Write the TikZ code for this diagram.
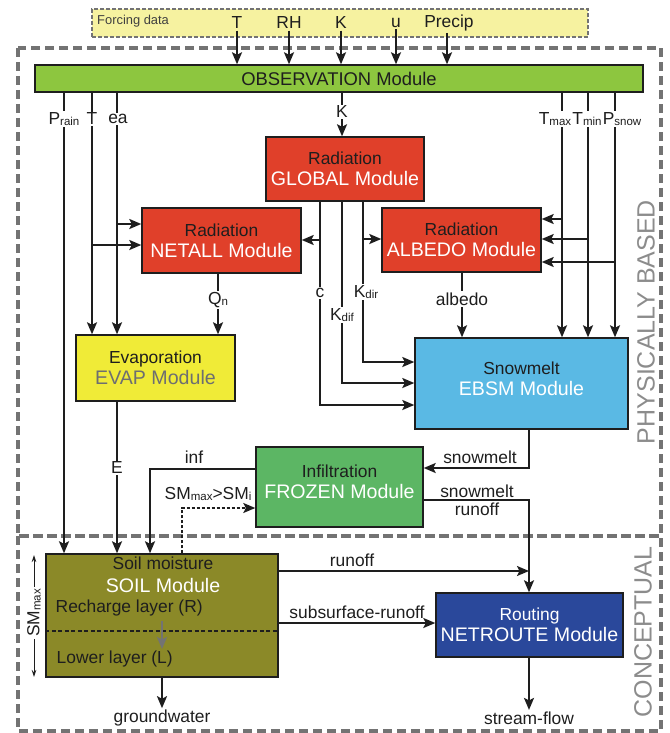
\documentclass[tikz,border=0pt]{standalone}
\usepackage{fontspec}
\setmainfont{Liberation Sans}
\usetikzlibrary{arrows.meta,calc}
\definecolor{ink}{HTML}{1E1E1E}
\definecolor{radred}{HTML}{E0402A}
\definecolor{obsgreen}{HTML}{8DC63F}
\definecolor{evapyel}{HTML}{F0EB37}
\definecolor{ebsmblue}{HTML}{5AB9E4}
\definecolor{frozgreen}{HTML}{5CB664}
\definecolor{soilolive}{HTML}{8B8928}
\definecolor{routeblue}{HTML}{2A489B}
\definecolor{forcefill}{HTML}{F6F2A0}
\definecolor{zonegray}{HTML}{737373}
\definecolor{sidegray}{HTML}{8C8C8C}
\definecolor{evapgray}{HTML}{6D6E71}
\newcommand{\sbs}[1]{\raisebox{-1.3pt}{\fontsize{11.5}{12}\selectfont #1}}
\newcommand{\modw}[1]{{\fontsize{19.6}{22}\selectfont\color{white}#1}}
\begin{document}
\begin{tikzpicture}[x=1pt,y=-1pt,
  lab/.style={font=\fontsize{17.4}{20}\selectfont, text=ink, inner sep=1.5pt},
  labw/.style={lab, fill=white},
  box/.style={draw=ink, line width=1.4pt, inner sep=0pt, align=center, text=ink,
              font=\fontsize{17.4}{21}\selectfont},
  boxtext/.style={inner sep=0pt, align=center, text=ink, font=\fontsize{17.4}{21}\selectfont},
  conn/.style={draw=ink, line width=1.9pt},
  arr/.style={conn, -{Stealth[length=12pt,width=10pt,inset=2.5pt]}},
  dotarr/.style={draw=ink, line width=1.4pt, dash pattern=on 3pt off 2pt,
                 -{Stealth[length=12pt,width=10pt,inset=2.5pt]}},
  zone/.style={draw=zonegray, line width=3.5pt, dash pattern=on 9pt off 5pt},
  sidelab/.style={rotate=90, text=sidegray, font=\fontsize{25}{27}\selectfont, inner sep=0pt},
]
\useasboundingbox (0,0) rectangle (669,733);

% zones
\draw[zone] (18,48) rectangle (661,536);
\draw[zone] (18,536) rectangle (661,731);
\node[sidelab] (pb) at (646,322) {PHYSICALLY BASED};
\node[sidelab] (cp) at (643,632) {CONCEPTUAL};

% forcing data
\node[draw=zonegray, fill=forcefill, line width=1.3pt, dash pattern=on 4pt off 2pt,
      minimum width=496pt, minimum height=28pt, inner sep=0pt] (forcing) at (340,23) {};
\node[anchor=west, text=black!75, font=\fontsize{12.9}{14}\selectfont, inner sep=0pt] (fdata) at (97,21) {Forcing data};
\node[lab] (fT) at (237,23) {T};
\node[lab] (fRH) at (289,23) {RH};
\node[lab] (fK) at (341,23) {K};
\node[lab] (fu) at (396,23) {u};
\node[lab] (fP) at (449,23) {Precip};

% boxes
\node[box, fill=obsgreen, minimum width=608pt, minimum height=27pt, font=\fontsize{18.4}{20}\selectfont] (obs) at (339,78.5) {OBSERVATION Module};
\node[box, fill=radred, minimum width=158pt, minimum height=64pt] (global) at (345,169) {Radiation\\\modw{GLOBAL Module}};
\node[box, fill=radred, minimum width=159pt, minimum height=65pt] (netall) at (221.5,240.5) {Radiation\\\modw{NETALL Module}};
\node[box, fill=radred, minimum width=159pt, minimum height=64pt] (albedo) at (461.5,240) {Radiation\\\modw{ALBEDO Module}};
\node[box, fill=evapyel, minimum width=159pt, minimum height=66pt] (evap) at (155.5,368) {Evaporation\\{\fontsize{19.6}{22}\selectfont\color{evapgray}EVAP Module}};
\node[box, fill=ebsmblue, minimum width=213pt, minimum height=91pt] (ebsm) at (521.5,383.5) {};
\node[boxtext] (tebsm) at (521.5,378.5) {Snowmelt\\\modw{EBSM Module}};
\node[box, fill=frozgreen, minimum width=167pt, minimum height=80pt] (frozen) at (339.5,487) {};
\node[boxtext] (tfrozen) at (339.5,482) {Infiltration\\\modw{FROZEN Module}};
\node[box, fill=soilolive, minimum width=232pt, minimum height=123pt] (soil) at (162,615.5) {};
\node[box, fill=routeblue, minimum width=187pt, minimum height=64pt] (netroute) at (529.5,625) {\color{white}Routing\\\modw{NETROUTE Module}};

% soil contents
\node[lab] (ts1) at (163,563) {Soil moisture};
\node[inner sep=0pt, font=\fontsize{19.6}{22}\selectfont, text=white] (ts2) at (163,585) {SOIL Module};
\node[lab, anchor=west] (ts3) at (54,608) {Recharge layer (R)};
\node[lab, anchor=west] (ts4) at (55,659) {Lower layer (L)};
\coordinate (sl) at (0,631);
\draw[ink, line width=1.1pt, dash pattern=on 4pt off 2.5pt] (soil.west |- sl) -- (soil.east |- sl);
\coordinate (ga) at (162,621);
\coordinate (gb) at (162,649);
\draw[draw=black!55, line width=2.6pt, -{Stealth[length=12pt,width=10pt,inset=2.5pt]}] (ga) -- (gb);

% SMmax double arrow
\coordinate (sma) at (34,555);
\coordinate (smb) at (34,677);
\draw[ink, line width=0.9pt, {Stealth[length=7pt,width=4.5pt]}-{Stealth[length=7pt,width=4.5pt]}] (sma) -- (smb);
\node[labw, rotate=90, inner sep=2pt] (lsm) at (34,613) {SM\sbs{max}};

% forcing arrows
\coordinate (xP) at (447,0);
\draw[arr] (fT) -- (fT |- obs.north);
\draw[arr] (fRH) -- (fRH |- obs.north);
\draw[arr] (fK) -- (fK |- obs.north);
\draw[arr] (fu) -- (fu |- obs.north);
\draw[arr] (fP.south -| xP) -- (obs.north -| xP);

% observation outputs
\coordinate (cPrain) at (64,119);
\coordinate (cT) at (92,119);
\coordinate (cEa) at (117,119);
\coordinate (cK) at (342,112);
\coordinate (cTmax) at (562,119);
\coordinate (cTmin) at (588,119);
\coordinate (cPsnow) at (615,119);
\draw[arr] (obs.south -| cPrain) -- (soil.north -| cPrain);
\draw[arr] (obs.south -| cT) -- (evap.north -| cT);
\draw[arr] (obs.south -| cEa) -- (evap.north -| cEa);
\draw[arr] (obs.south -| cK) -- (global.north -| cK);
\draw[arr] (obs.south -| cTmax) -- (ebsm.north -| cTmax);
\draw[arr] (obs.south -| cTmin) -- (ebsm.north -| cTmin);
\draw[arr] (obs.south -| cPsnow) -- (ebsm.north -| cPsnow);

% branches
\coordinate (bEa) at (117,224);
\coordinate (bT) at (92,245);
\coordinate (bC) at (320,240);
\coordinate (bKdir) at (363,239);
\coordinate (bTmax) at (562,219);
\coordinate (bTmin) at (588,239);
\coordinate (bPsnow) at (615,262);
\draw[arr] (bEa) -- (bEa -| netall.west);
\draw[arr] (bT) -- (bT -| netall.west);
\draw[arr] (bC) -- (bC -| netall.east);
\draw[arr] (bKdir) -- (bKdir -| albedo.west);
\draw[arr] (bTmax) -- (bTmax -| albedo.east);
\draw[arr] (bTmin) -- (bTmin -| albedo.east);
\draw[arr] (bPsnow) -- (bPsnow -| albedo.east);

% global outputs
\coordinate (eC) at (320,405);
\coordinate (eKdif) at (342,383);
\coordinate (eKdir) at (363,362);
\draw[arr] (global.south -| eC) -- (eC) -- (eC -| ebsm.west);
\draw[arr] (global.south -| eKdif) -- (eKdif) -- (eKdif -| ebsm.west);
\draw[arr] (global.south -| eKdir) -- (eKdir) -- (eKdir -| ebsm.west);

% netall -> evap, albedo -> ebsm
\coordinate (cQn) at (218,300);
\coordinate (cAlb) at (462,299);
\draw[arr] (netall.south -| cQn) -- (evap.north -| cQn);
\draw[arr] (albedo.south -| cAlb) -- (ebsm.north -| cAlb);

% evap -> soil
\coordinate (cE) at (117,468);
\draw[arr] (evap.south -| cE) -- (soil.north -| cE);

% snowmelt
\coordinate (sm1) at (529,468);
\draw[arr] (ebsm.south -| sm1) -- (sm1) -- (sm1 -| frozen.east);
\coordinate (sr) at (529,500);
\draw[arr] (sr -| frozen.east) -- (sr) -- (netroute.north -| sr);

% infiltration
\coordinate (inf) at (150,469);
\draw[arr] (inf -| frozen.west) -- (inf) -- (soil.north -| inf);
\coordinate (smd) at (182,508);
\draw[dotarr] (soil.north -| smd) -- (smd) -- (smd -| frozen.west);

% soil outputs
\coordinate (ro) at (529,571);
\draw[arr] (soil.east |- ro) -- (ro);
\coordinate (ss) at (0,623);
\draw[arr] (soil.east |- ss) -- (netroute.west |- ss);
\node[lab] (gw) at (162,718) {groundwater};
\draw[arr] (soil.south) -- (gw.north);
\node[lab] (sf) at (529,718) {stream-flow};
\draw[arr] (netroute.south -| sf) -- (sf.north);

% labels on lines
\node[labw] (lPrain) at (64,119) {P\sbs{rain}};
\node[labw] (lT) at (92,119) {T};
\node[labw] (lEa) at (118,119) {ea};
\node[labw] (lK) at (342,112) {K};
\node[labw] (lTmax) at (555,119) {T\sbs{max}};
\node[labw] (lTmin) at (587,119) {T\sbs{min}};
\node[labw] (lPsnow) at (622,119) {P\sbs{snow}};
\node[labw] (lC) at (320,293) {c};
\node[labw] (lKdir) at (366,292) {K\sbs{dir}};
\node[labw] (lKdif) at (342,315) {K\sbs{dif}};
\node[labw] (lQn) at (218,300) {Q\sbs{n}};
\node[labw] (lAlb) at (462,299) {albedo};
\node[labw] (lE) at (117,468) {E};
\node[lab] (lsnow) at (480,457) {snowmelt};
\node[lab] (lsr1) at (477,491) {snowmelt};
\node[lab] (lsr2) at (477,509) {runoff};
\node[lab] (linf) at (194,457) {inf};
\node[lab] (lsmc) at (208,494) {SM\sbs{max}>SM\sbs{i}};
\node[lab] (lro) at (352,560) {runoff};
\node[lab] (lss) at (357,612) {subsurface-runoff};
\end{tikzpicture}
\end{document}
